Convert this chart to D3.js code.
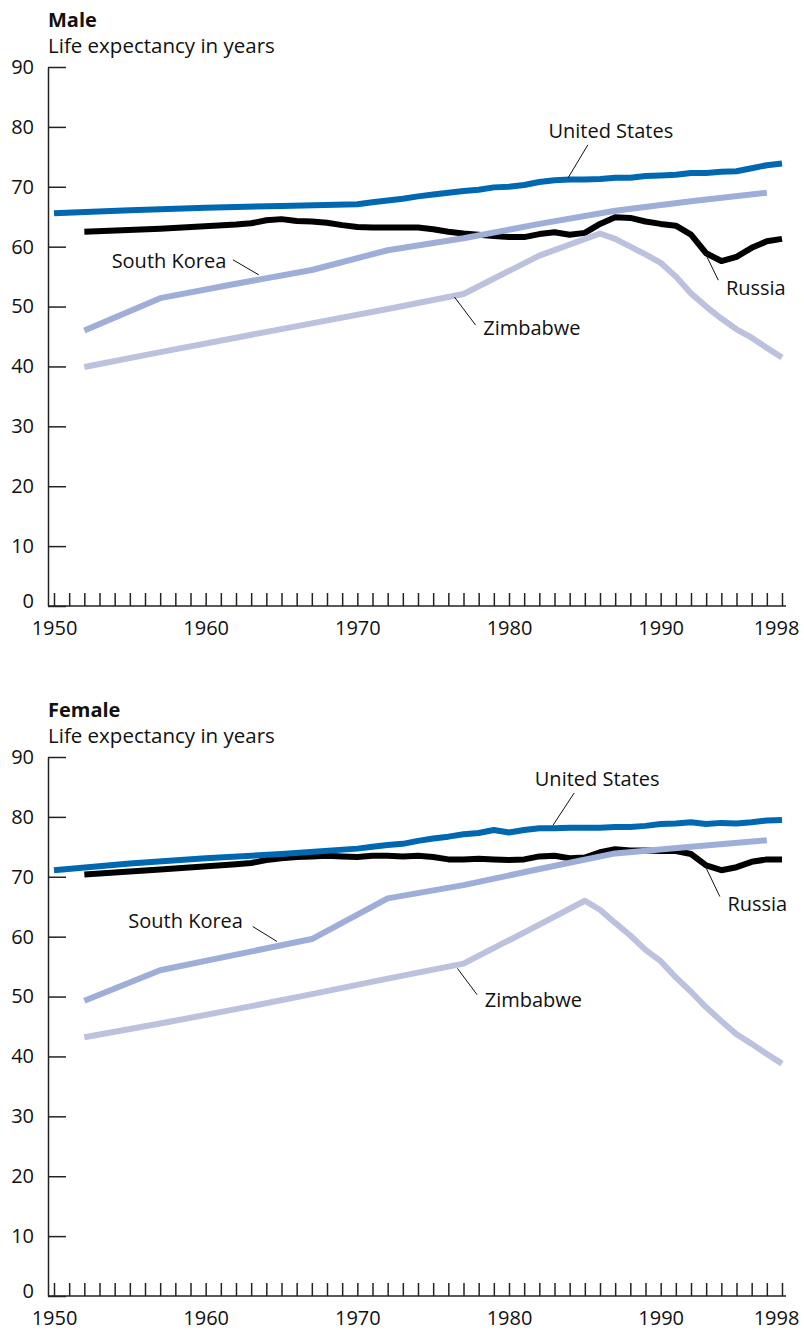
<!DOCTYPE html>
<html>
<head>
<meta charset="utf-8">
<script src="https://cdn.jsdelivr.net/npm/d3@7"></script>
<style>
  body { margin: 0; background: #fff; }
  text { font-family: "Open Sans", sans-serif; fill: #111; }
  .titulo { font-weight: bold; font-size: 20px; }
  .subtitulo { font-size: 20.5px; }
  .rotulo { font-size: 20px; }
  .eixo text { font-size: 20px; font-family: "Open Sans", sans-serif; fill: #111; }
  .eixo line, .eixo path { stroke: #222; stroke-width: 1.5; }
  .serie { fill: none; stroke-width: 6; stroke-linejoin: round; }
  .guia { stroke: #111; stroke-width: 1; }
</style>
</head>
<body>
<svg id="grafico"></svg>
<script>
// anos e valores (expectativa de vida) - homens
const anosEUAMasc = [1950, 1955, 1960, 1965, 1970, 1971, 1972, 1973, 1974, 1975, 1976, 1977, 1978, 1979, 1980, 1981, 1982, 1983, 1984, 1985, 1986, 1987, 1988, 1989, 1990, 1991, 1992, 1993, 1994, 1995, 1996, 1997, 1998];
const valoresEUAMasc = [65.6, 66.1, 66.5, 66.8, 67.1, 67.4, 67.7, 68.0, 68.4, 68.7, 69.0, 69.3, 69.5, 69.9, 70.0, 70.3, 70.8, 71.1, 71.2, 71.2, 71.3, 71.5, 71.5, 71.8, 71.9, 72.0, 72.3, 72.3, 72.5, 72.6, 73.1, 73.6, 73.9];

const anosRussiaMasc = [1952, 1957, 1962, 1963, 1964, 1965, 1966, 1967, 1968, 1969, 1970, 1971, 1972, 1973, 1974, 1975, 1976, 1977, 1978, 1979, 1980, 1981, 1982, 1983, 1984, 1985, 1986, 1987, 1988, 1989, 1990, 1991, 1992, 1993, 1994, 1995, 1996, 1997, 1998];
const valoresRussiaMasc = [62.5, 63.0, 63.7, 63.9, 64.4, 64.6, 64.3, 64.2, 64.0, 63.6, 63.3, 63.2, 63.2, 63.2, 63.2, 62.9, 62.5, 62.2, 62.0, 61.8, 61.6, 61.6, 62.1, 62.4, 62.0, 62.3, 63.8, 64.9, 64.8, 64.2, 63.8, 63.5, 62.0, 58.9, 57.6, 58.3, 59.8, 60.9, 61.3];

const anosCoreiaMasc = [1952, 1957, 1962, 1967, 1972, 1977, 1982, 1987, 1992, 1997];
const valoresCoreiaMasc = [46.0, 51.4, 53.8, 56.1, 59.4, 61.4, 63.8, 66.0, 67.6, 69.0];

const anosZimbabueMasc = [1952, 1957, 1962, 1967, 1972, 1977, 1982, 1986, 1987, 1988, 1989, 1990, 1991, 1992, 1993, 1994, 1995, 1996, 1997, 1998];
const valoresZimbabueMasc = [39.9, 42.4, 44.8, 47.2, 49.6, 52.1, 58.5, 62.2, 61.3, 60.0, 58.7, 57.3, 55.0, 52.2, 50.0, 48.0, 46.2, 44.8, 43.1, 41.5];

// mulheres
const anosEUAFem = [1950, 1955, 1960, 1965, 1970, 1971, 1972, 1973, 1974, 1975, 1976, 1977, 1978, 1979, 1980, 1981, 1982, 1983, 1984, 1985, 1986, 1987, 1988, 1989, 1990, 1991, 1992, 1993, 1994, 1995, 1996, 1997, 1998];
const valoresEUAFem = [71.1, 72.2, 73.1, 73.8, 74.7, 75.0, 75.3, 75.5, 76.0, 76.4, 76.7, 77.1, 77.3, 77.8, 77.4, 77.8, 78.1, 78.1, 78.2, 78.2, 78.2, 78.3, 78.3, 78.5, 78.8, 78.9, 79.1, 78.8, 79.0, 78.9, 79.1, 79.4, 79.5];

const anosRussiaFem = [1952, 1957, 1962, 1963, 1964, 1965, 1966, 1967, 1968, 1969, 1970, 1971, 1972, 1973, 1974, 1975, 1976, 1977, 1978, 1979, 1980, 1981, 1982, 1983, 1984, 1985, 1986, 1987, 1988, 1989, 1990, 1991, 1992, 1993, 1994, 1995, 1996, 1997, 1998];
const valoresRussiaFem = [70.4, 71.2, 72.1, 72.3, 72.8, 73.1, 73.3, 73.4, 73.5, 73.4, 73.3, 73.5, 73.5, 73.4, 73.5, 73.3, 72.9, 72.9, 73.0, 72.9, 72.8, 72.9, 73.4, 73.5, 73.1, 73.2, 74.1, 74.6, 74.4, 74.4, 74.3, 74.3, 73.8, 71.9, 71.1, 71.6, 72.5, 72.9, 72.9];

const anosCoreiaFem = [1952, 1957, 1962, 1967, 1972, 1977, 1982, 1987, 1992, 1997];
const valoresCoreiaFem = [49.3, 54.4, 57.0, 59.6, 66.4, 68.6, 71.3, 73.9, 75.0, 76.1];

const anosZimbabueFem = [1952, 1957, 1962, 1967, 1972, 1977, 1982, 1985, 1986, 1987, 1988, 1989, 1990, 1991, 1992, 1993, 1994, 1995, 1996, 1997, 1998];
const valoresZimbabueFem = [43.2, 45.5, 47.9, 50.4, 53.0, 55.5, 62.0, 66.0, 64.5, 62.3, 60.2, 57.8, 55.9, 53.2, 50.8, 48.2, 45.9, 43.7, 42.1, 40.4, 38.8];

const marcasY = [0, 10, 20, 30, 40, 50, 60, 70, 80, 90];
const rotulosX = [1950, 1960, 1970, 1980, 1990, 1998];

const cores = {
  'United States': '#0067b1',
  'Russia': '#000000',
  'South Korea': '#9eaed8',
  'Zimbabwe': '#bcc2de'
};

// rotulos em unidades de dados: texto (ano, valor) e linha guia (de, para)
const rotulosMasc = [
  { nome: 'United States', texto: [1982.6, 78.1], de: [1985.2, 77.0], para: [1983.9, 71.5] },
  { nome: 'Russia', texto: [1994.3, 51.9], de: [1992.9, 59.1], para: [1993.8, 54.4] },
  { nome: 'Zimbabwe', texto: [1978.3, 45.2], de: [1976.4, 51.6], para: [1977.8, 46.9] },
  { nome: 'South Korea', texto: [1953.8, 56.4], de: [1963.5, 55.3], para: [1961.8, 57.8] }
];
const rotulosFem = [
  { nome: 'United States', texto: [1981.7, 85.2], de: [1984.3, 84.0], para: [1982.9, 78.6] },
  { nome: 'Russia', texto: [1994.4, 64.3], de: [1992.9, 72.0], para: [1993.9, 66.7] },
  { nome: 'Zimbabwe', texto: [1978.4, 48.3], de: [1976.6, 54.7], para: [1977.9, 50.3] },
  { nome: 'South Korea', texto: [1954.9, 61.4], de: [1964.7, 59.2], para: [1963.1, 61.7] }
];

const largura = 804;
const altura = 1330;

const svg = d3.select('#grafico').attr('width', largura).attr('height', altura);

const x = d3.scaleLinear().domain([1950, 1998]).range([54, 782]);
const y = d3.scaleLinear().domain([0, 90]).range([606, 67]);
const eixoX0 = 48;

function criaPainel(deslocamento, titulo, series, rotulos) {
  const g = svg.append('g').attr('transform', `translate(0, ${deslocamento})`);

  g.append('text').classed('titulo', true).attr('x', eixoX0).attr('y', 27).text(titulo);
  g.append('text').classed('subtitulo', true).attr('x', eixoX0).attr('y', 53).text('Life expectancy in years');

  // eixo y
  const eixoY = g.append('g').classed('eixo', true)
    .attr('transform', `translate(${eixoX0}, 0)`)
    .call(d3.axisLeft(y).tickValues(marcasY).tickSize(-18).tickSizeOuter(0).tickPadding(14));
  eixoY.selectAll('.tick text').attr('dy', d => d === 0 ? '0.05em' : '0.32em');

  // eixo x: marcas anuais
  const anos = d3.range(1950, 1999);
  const eixoX = g.append('g').classed('eixo', true)
    .attr('transform', `translate(0, ${y(0)})`)
    .call(d3.axisBottom(x).tickValues(anos).tickSize(-13).tickSizeOuter(0).tickFormat(''));
  eixoX.select('.domain').remove();
  eixoX.append('line').attr('x1', eixoX0).attr('x2', x(1998) + 4).attr('y1', 0).attr('y2', 0);

  const rotX = g.append('g').classed('eixo', true)
    .attr('transform', `translate(0, ${y(0)})`)
    .call(d3.axisBottom(x).tickValues(rotulosX).tickSize(0).tickPadding(15).tickFormat(d3.format('d')));
  rotX.select('.domain').remove();
  rotX.selectAll('.tick text').attr('dx', d => d === 1998 ? -6 : 0);

  const linha = d3.line().x(d => x(d[0])).y(d => y(d[1]));

  g.selectAll('.serie')
    .data(series)
    .enter()
    .append('path')
    .classed('serie', true)
    .attr('stroke', d => cores[d.nome])
    .attr('d', d => linha(d3.zip(d.anos, d.valores)));

  g.selectAll('.guia')
    .data(rotulos)
    .enter()
    .append('line')
    .classed('guia', true)
    .attr('x1', d => x(d.de[0]))
    .attr('y1', d => y(d.de[1]))
    .attr('x2', d => x(d.para[0]))
    .attr('y2', d => y(d.para[1]));

  g.selectAll('.rotulo')
    .data(rotulos)
    .enter()
    .append('text')
    .classed('rotulo', true)
    .attr('x', d => x(d.texto[0]))
    .attr('y', d => y(d.texto[1]))
    .text(d => d.nome);
}

criaPainel(0, 'Male', [
  { nome: 'Russia', anos: anosRussiaMasc, valores: valoresRussiaMasc },
  { nome: 'Zimbabwe', anos: anosZimbabueMasc, valores: valoresZimbabueMasc },
  { nome: 'South Korea', anos: anosCoreiaMasc, valores: valoresCoreiaMasc },
  { nome: 'United States', anos: anosEUAMasc, valores: valoresEUAMasc }
], rotulosMasc);

criaPainel(690, 'Female', [
  { nome: 'Russia', anos: anosRussiaFem, valores: valoresRussiaFem },
  { nome: 'Zimbabwe', anos: anosZimbabueFem, valores: valoresZimbabueFem },
  { nome: 'South Korea', anos: anosCoreiaFem, valores: valoresCoreiaFem },
  { nome: 'United States', anos: anosEUAFem, valores: valoresEUAFem }
], rotulosFem);
</script>
</body>
</html>
